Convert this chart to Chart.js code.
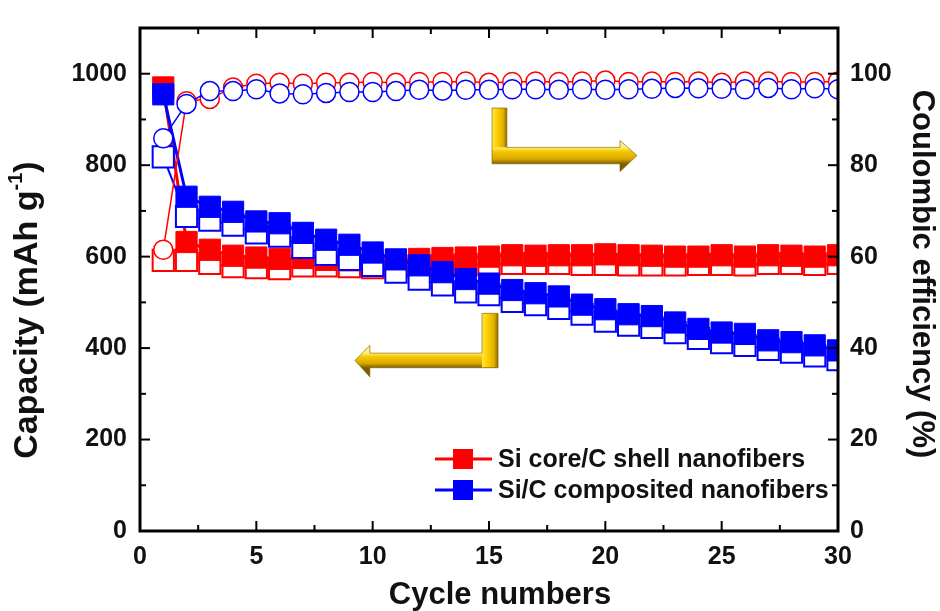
<!DOCTYPE html>
<html>
<head>
<meta charset="utf-8">
<script src="https://cdn.jsdelivr.net/npm/chart.js@4.4.1/dist/chart.umd.min.js"></script>
<style>
  html, body { margin: 0; padding: 0; background: #fff; }
</style>
</head>
<body>
<canvas id="chart" width="940" height="611"></canvas>
<script>
// DATA //
const cycles = [1, 2, 3, 4, 5, 6, 7, 8, 9, 10, 11, 12, 13, 14, 15, 16, 17, 18, 19, 20, 21, 22, 23, 24, 25, 26, 27, 28, 29, 30];

// Si core/C shell nanofibers
const coreShellDischarge = [970, 632, 615, 602, 598, 595, 597, 593, 592, 591, 592, 595, 597, 598, 600, 603, 602, 603, 603, 605, 603, 602, 600, 600, 603, 600, 603, 602, 600, 603];
const coreShellCharge = [592, 592, 585, 578, 576, 574, 580, 580, 578, 576, 578, 580, 580, 582, 583, 585, 585, 585, 583, 583, 582, 582, 582, 583, 583, 582, 585, 585, 583, 585];
const coreShellCE = [61.5, 94.0, 94.5, 97.0, 97.8, 98.0, 97.8, 98.0, 98.0, 98.2, 98.0, 98.2, 98.2, 98.3, 98.0, 98.2, 98.3, 98.2, 98.3, 98.5, 98.2, 98.3, 98.2, 98.3, 98.0, 98.3, 98.3, 98.2, 98.2, 98.3];

// Si/C composited nanofibers
const compositeDischarge = [955, 731, 709, 698, 677, 673, 652, 637, 626, 609, 594, 581, 566, 551, 541, 527, 520, 513, 495, 485, 474, 470, 456, 442, 434, 431, 417, 413, 406, 395];
const compositeCharge = [818, 688, 680, 669, 652, 645, 620, 605, 594, 581, 566, 551, 538, 523, 517, 502, 495, 487, 474, 459, 450, 445, 434, 421, 412, 406, 397, 391, 383, 375];
const compositeCE = [85.9, 93.4, 96.2, 96.2, 96.6, 95.7, 95.5, 95.8, 96.0, 96.0, 96.2, 96.5, 96.3, 96.5, 96.5, 96.6, 96.6, 96.5, 96.6, 96.5, 96.6, 96.7, 96.9, 96.8, 96.7, 96.6, 96.9, 96.6, 96.8, 96.6];

const seriesNames = ['Si core/C shell nanofibers', 'Si/C composited nanofibers'];

// TICKS //
const cycleTicks = [0, 5, 10, 15, 20, 25, 30];
const cycleMinorTicks = [2.5, 7.5, 12.5, 17.5, 22.5, 27.5];
const capacityTicks = [0, 200, 400, 600, 800, 1000];
const capacityMinorTicks = [100, 300, 500, 700, 900];
const efficiencyTicks = [0, 20, 40, 60, 80, 100];
const efficiencyMinorTicks = [10, 30, 50, 70, 90];

const RED = '#ff0000';
const BLUE = '#0000ff';
const FONT = "'Liberation Sans', Arial, sans-serif";
const TEXT = '#111111';

const toPoints = (values) => values.map((v, i) => ({x: cycles[i], y: v}));

const filledSquares = (label, color, values, order) => ({
  label, data: toPoints(values), yAxisID: 'y', order,
  borderColor: color, backgroundColor: color, borderWidth: 3,
  pointStyle: 'rect', pointRadius: 15, pointBackgroundColor: color, pointBorderColor: color, pointBorderWidth: 1
});
const openSquares = (color, values, order) => ({
  label: '', data: toPoints(values), yAxisID: 'y', order,
  borderColor: color, backgroundColor: '#fff', borderWidth: 2,
  pointStyle: 'rect', pointRadius: 15, pointBackgroundColor: '#fff', pointBorderColor: color, pointBorderWidth: 2
});
const openCircles = (color, values, order) => ({
  label: '', data: toPoints(values), yAxisID: 'y1', order,
  borderColor: color, backgroundColor: '#fff', borderWidth: 1.5,
  pointStyle: 'circle', pointRadius: 9.5, pointBackgroundColor: '#fff', pointBorderColor: color, pointBorderWidth: 1.5
});

// GOLD ARROWS (data units of x / left axis): bar x0,x1 | bar top | arm top,bottom | arm end | head tip //
const arrowShapes = [
  {barX: [15.13, 15.77], barTop: 925, arm: [839, 803], armEnd: 20.63, head: [854, 786], tip: 21.36},
  {barX: [14.70, 15.39], barTop: 476, arm: [389, 357], armEnd: 9.88, head: [406, 337], tip: 9.24}
];

function drawArrow(ctx, x, y, s) {
  const bx0 = x.getPixelForValue(s.barX[0]), bx1 = x.getPixelForValue(s.barX[1]);
  const top = y.getPixelForValue(s.barTop);
  const aT = y.getPixelForValue(s.arm[0]), aB = y.getPixelForValue(s.arm[1]);
  const hT = y.getPixelForValue(s.head[0]), hB = y.getPixelForValue(s.head[1]);
  const end = x.getPixelForValue(s.armEnd), tip = x.getPixelForValue(s.tip);
  const mid = (aT + aB) / 2;
  const right = tip > bx1;
  const pts = right
    ? [[bx0, top], [bx1, top], [bx1, aT], [end, aT], [end, hT], [tip, mid], [end, hB], [end, aB], [bx0, aB]]
    : [[bx1, top], [bx1, aB], [end, aB], [end, hB], [tip, mid], [end, hT], [end, aT], [bx0, aT], [bx0, top]];

  ctx.save();
  ctx.beginPath();
  pts.forEach(([px, py], i) => i ? ctx.lineTo(px, py) : ctx.moveTo(px, py));
  ctx.closePath();
  ctx.clip();

  // arm: light top, dark bottom
  const g = ctx.createLinearGradient(0, aT, 0, aB);
  g.addColorStop(0, '#fff07a');
  g.addColorStop(0.25, '#f5c800');
  g.addColorStop(0.7, '#d9a900');
  g.addColorStop(1, '#7d5f00');
  ctx.fillStyle = g;
  ctx.fillRect(Math.min(tip, bx0) - 2, top - 2, Math.abs(tip - bx0) + 30, Math.abs(hB - top) + 30);

  // upright bar: light left, dark right
  const gv = ctx.createLinearGradient(bx0, 0, bx1, 0);
  gv.addColorStop(0, '#ffe84a');
  gv.addColorStop(0.3, '#ffd200');
  gv.addColorStop(0.75, '#e0b000');
  gv.addColorStop(1, '#8c6b00');
  ctx.fillStyle = gv;
  ctx.fillRect(bx0, top, bx1 - bx0, (right ? aT : aB) - top);
  ctx.restore();

  ctx.save();
  ctx.beginPath();
  pts.forEach(([px, py], i) => i ? ctx.lineTo(px, py) : ctx.moveTo(px, py));
  ctx.closePath();
  ctx.strokeStyle = 'rgba(120,90,0,0.6)';
  ctx.lineWidth = 1;
  ctx.stroke();
  ctx.restore();
}

const decor = {
  id: 'decor',
  beforeDatasetsDraw(chart) {
    const {ctx, scales: {x, y}} = chart;
    arrowShapes.forEach((s) => drawArrow(ctx, x, y, s));
  },
  afterDraw(chart) {
    const {ctx, chartArea: a, scales: {x, y, y1}} = chart;
    ctx.save();

    // FRAME //
    ctx.strokeStyle = '#000';
    ctx.lineWidth = 3;
    ctx.strokeRect(a.left, a.top, a.right - a.left, a.bottom - a.top);

    // INWARD TICKS //
    ctx.lineWidth = 2;
    const vTicks = (values, len) => values.forEach((v) => {
      const px = x.getPixelForValue(v);
      ctx.beginPath();
      ctx.moveTo(px, a.bottom); ctx.lineTo(px, a.bottom - len);
      ctx.moveTo(px, a.top); ctx.lineTo(px, a.top + len);
      ctx.stroke();
    });
    const hTicks = (scale, values, len, right) => values.forEach((v) => {
      const py = scale.getPixelForValue(v);
      const x0 = right ? a.right : a.left;
      ctx.beginPath();
      ctx.moveTo(x0, py); ctx.lineTo(right ? x0 - len : x0 + len, py);
      ctx.stroke();
    });
    vTicks(cycleTicks, 10);
    vTicks(cycleMinorTicks, 6);
    hTicks(y, capacityTicks, 10, false);
    hTicks(y, capacityMinorTicks, 6, false);
    hTicks(y1, efficiencyTicks, 10, true);
    hTicks(y1, efficiencyMinorTicks, 6, true);

    // AXIS TITLES //
    ctx.fillStyle = TEXT;
    ctx.textBaseline = 'middle';
    ctx.textAlign = 'center';

    ctx.font = `bold 31px ${FONT}`;
    ctx.fillText('Cycle numbers', 500, 595);

    ctx.save();
    ctx.translate(922, 274);
    ctx.rotate(Math.PI / 2);
    ctx.font = `bold 31px ${FONT}`;
    ctx.fillText('Coulombic efficiency (%)', 0, 0);
    ctx.restore();

    ctx.save();
    ctx.translate(28, 310);
    ctx.rotate(-Math.PI / 2);
    ctx.textAlign = 'left';
    const main = 'Capacity (mAh g';
    ctx.font = `bold 34px ${FONT}`;
    const w1 = ctx.measureText(main).width;
    const w3 = ctx.measureText(')').width;
    ctx.font = `bold 20px ${FONT}`;
    const w2 = ctx.measureText('-1').width;
    let cx = -(w1 + w2 + w3) / 2;
    ctx.font = `bold 34px ${FONT}`;
    ctx.fillText(main, cx, 0);
    cx += w1;
    ctx.font = `bold 20px ${FONT}`;
    ctx.fillText('-1', cx, -12);
    cx += w2;
    ctx.font = `bold 34px ${FONT}`;
    ctx.fillText(')', cx, 0);
    ctx.restore();

    // LEGEND //
    const colors = [RED, BLUE];
    seriesNames.forEach((name, i) => {
      const ly = 459 + i * 31;
      ctx.strokeStyle = colors[i];
      ctx.lineWidth = 3;
      ctx.beginPath();
      ctx.moveTo(435, ly); ctx.lineTo(492, ly);
      ctx.stroke();
      ctx.fillStyle = colors[i];
      ctx.fillRect(453, ly - 10, 20, 20);
      ctx.fillStyle = TEXT;
      ctx.textAlign = 'left';
      ctx.font = `bold 25px ${FONT}`;
      ctx.fillText(name, 498, ly + 1);
    });

    ctx.restore();
  }
};

const tickFont = {family: FONT, size: 25, weight: 'bold'};
const plain = (v) => String(v);

new Chart(document.getElementById('chart'), {
  type: 'line',
  data: {
    datasets: [
      openCircles(BLUE, compositeCE, 0),
      openCircles(RED, coreShellCE, 1),
      filledSquares(seriesNames[1], BLUE, compositeDischarge, 2),
      openSquares(BLUE, compositeCharge, 3),
      filledSquares(seriesNames[0], RED, coreShellDischarge, 4),
      openSquares(RED, coreShellCharge, 5)
    ]
  },
  options: {
    responsive: false,
    animation: false,
    layout: {padding: {top: 15, right: 0, bottom: 0, left: 0}},
    plugins: {legend: {display: false}, tooltip: {enabled: false}},
    scales: {
      x: {
        type: 'linear', min: 0, max: 30,
        afterBuildTicks: (s) => { s.ticks = cycleTicks.map(v => ({value: v})); },
        afterFit: (s) => { s.height = 80; },
        grid: {display: false, drawTicks: false},
        border: {display: false},
        ticks: {font: tickFont, color: TEXT, padding: 11, maxRotation: 0, callback: plain}
      },
      y: {
        position: 'left', min: 0, max: 1100,
        afterBuildTicks: (s) => { s.ticks = capacityTicks.map(v => ({value: v})); },
        afterFit: (s) => { s.width = 140; },
        grid: {display: false, drawTicks: false},
        border: {display: false},
        ticks: {font: tickFont, color: TEXT, padding: 13, callback: plain}
      },
      y1: {
        position: 'right', min: 0, max: 110,
        afterBuildTicks: (s) => { s.ticks = efficiencyTicks.map(v => ({value: v})); },
        afterFit: (s) => { s.width = 102; },
        grid: {display: false, drawTicks: false},
        border: {display: false},
        ticks: {font: tickFont, color: TEXT, padding: 12, callback: plain}
      }
    }
  },
  plugins: [decor]
});
</script>
</body>
</html>
